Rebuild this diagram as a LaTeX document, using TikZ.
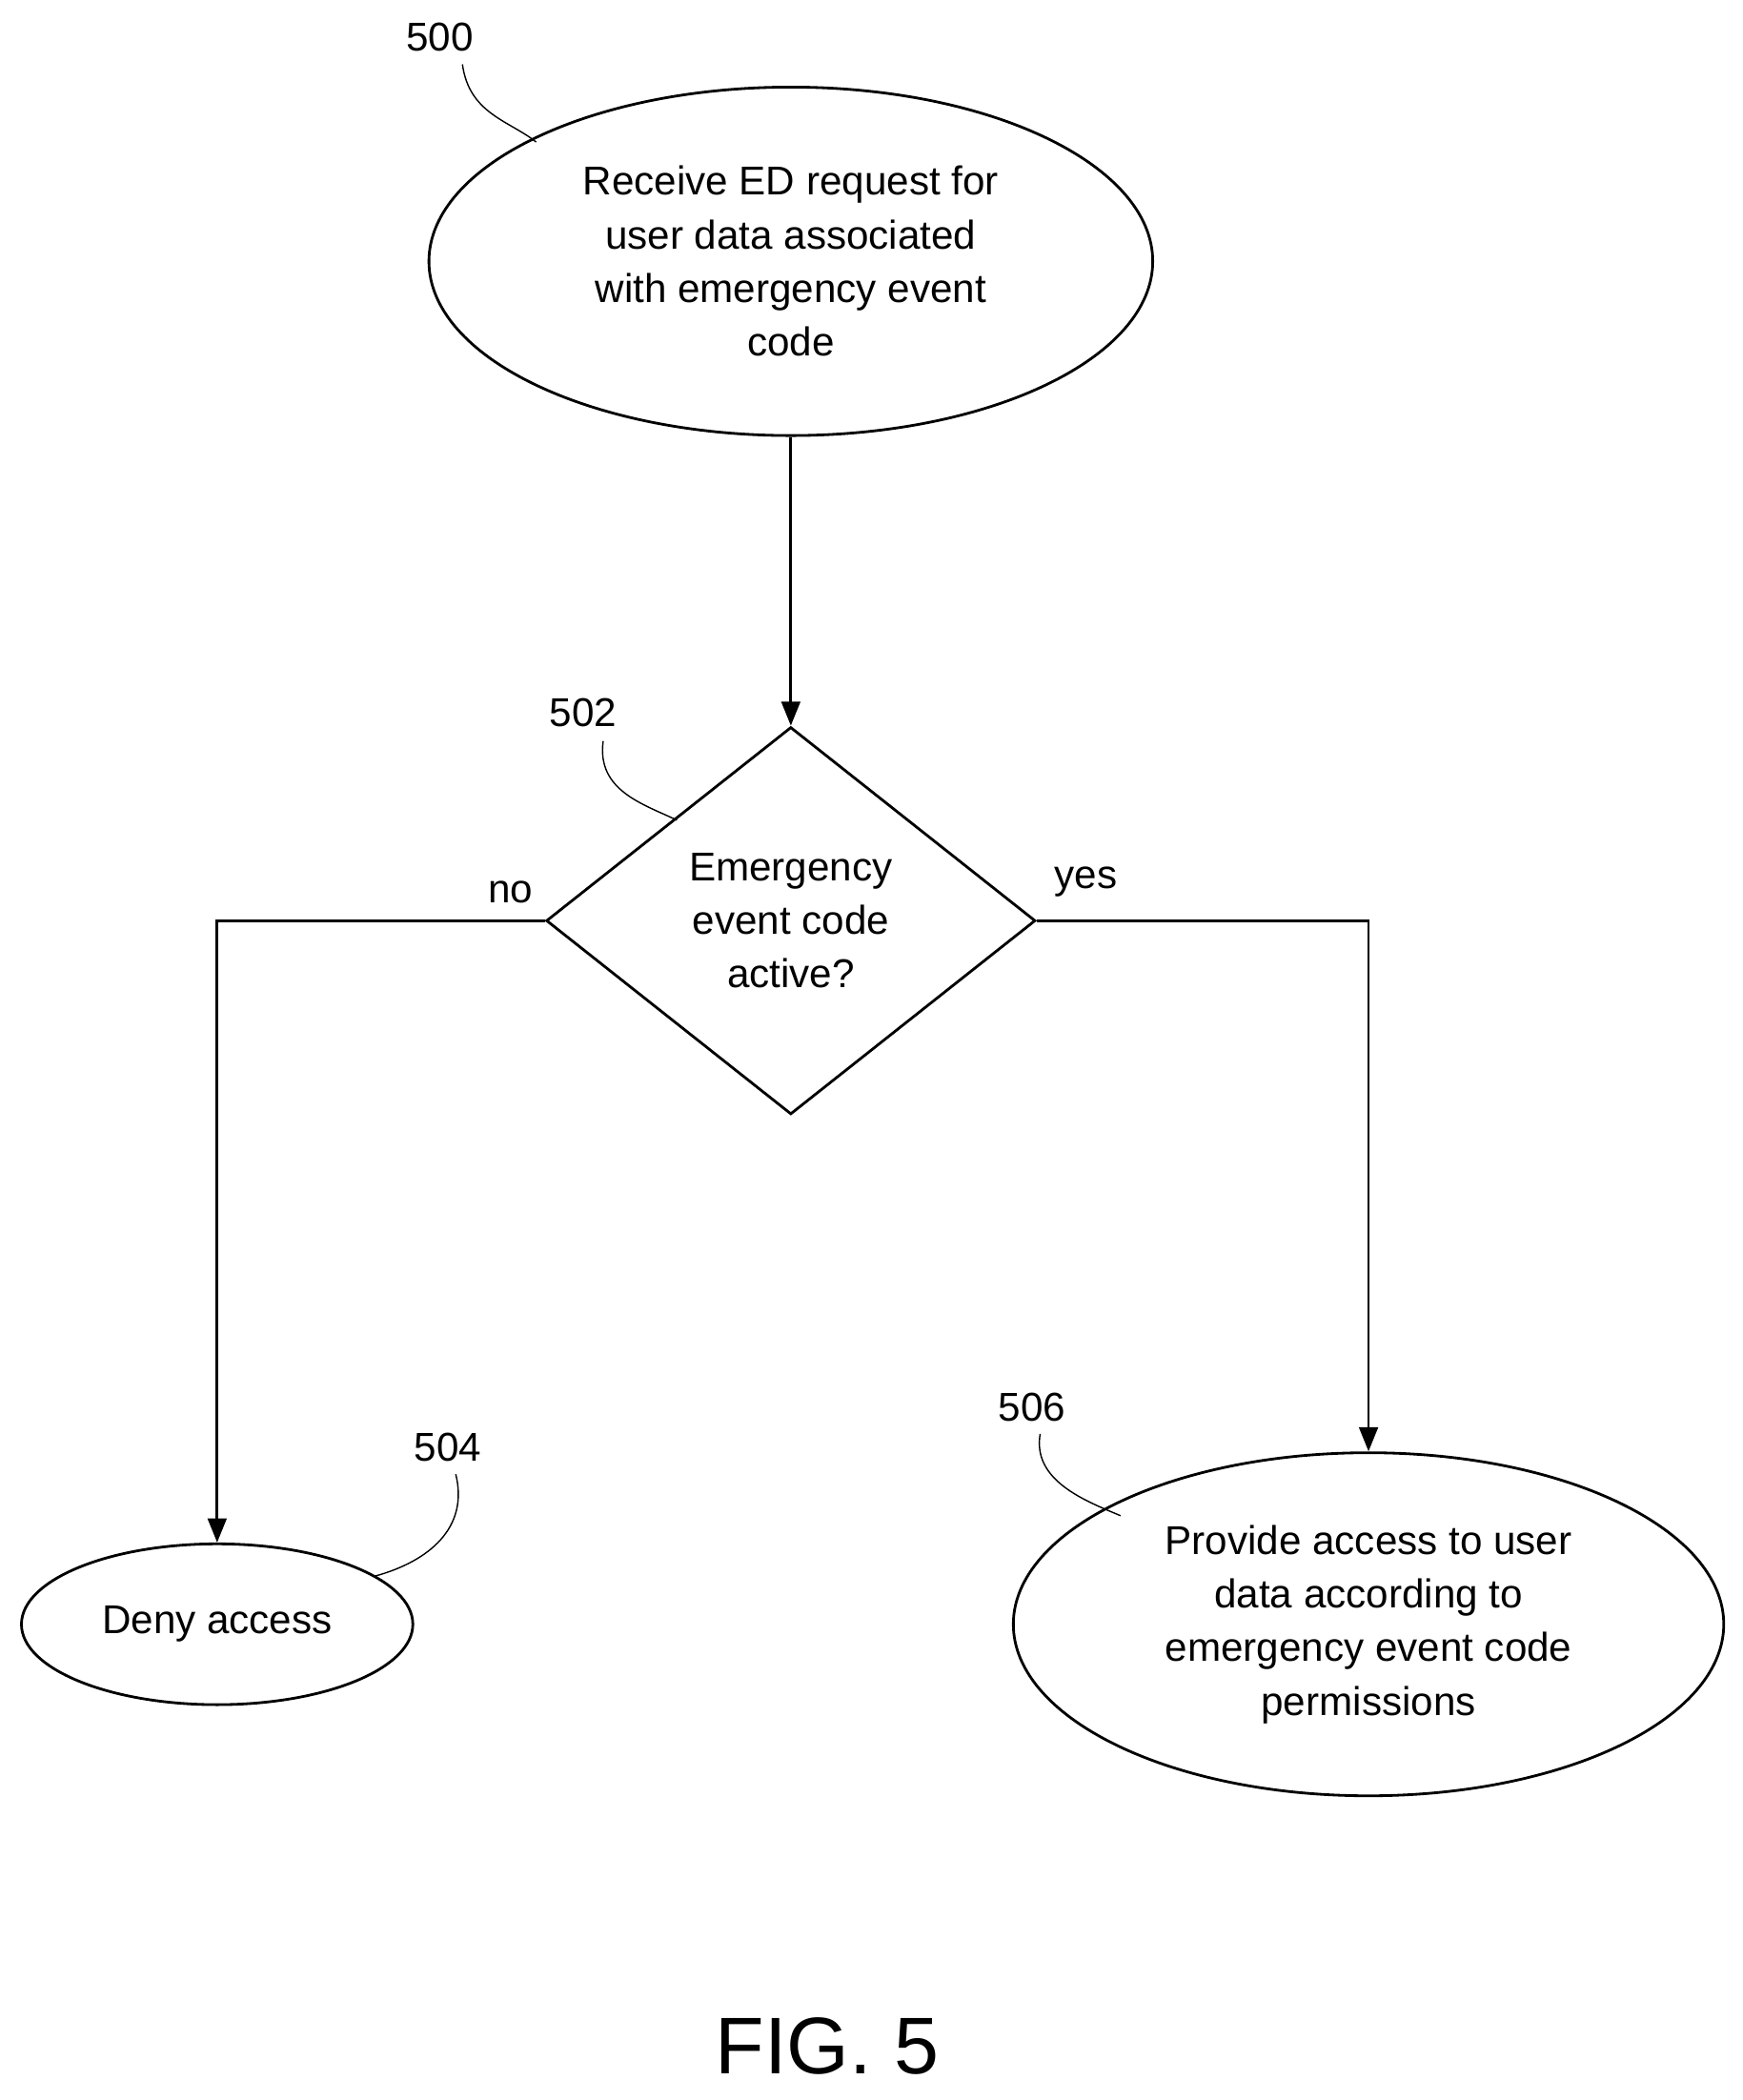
\documentclass[tikz,border=0pt]{standalone}
\usepackage{fontspec}
\setmainfont{Liberation Sans}
\usetikzlibrary{shapes.geometric,arrows.meta}
\begin{document}
\begin{tikzpicture}[x=0.5pt,y=-0.5pt,
  every node/.style={font=\fontsize{15}{20}\selectfont},
  box/.style={draw,line width=1pt,ellipse,inner sep=0pt,align=center},
  conn/.style={line width=1pt,-{Triangle[length=9pt,width=7pt]}},
  lead/.style={line width=0.5pt}]
\useasboundingbox (0,0) rectangle (1300,1567);
\node[box,minimum width=270pt,minimum height=130pt] (a) at (590,195) {Receive ED request for\\user data associated\\with emergency event\\code};
\node[draw,line width=1pt,diamond,inner sep=0pt,minimum width=182.5pt,minimum height=144.5pt,align=center] (d) at (590,687) {Emergency\\event code\\active?};
\node[box,minimum width=146pt,minimum height=60pt] (n) at (162,1212) {Deny access};
\node[box,minimum width=265pt,minimum height=128pt] (y) at (1021,1212) {Provide access to user\\data according to\\emergency event code\\permissions};
\draw[conn] (a.south) -- (d.north);
\draw[conn] (d.west) -| (n.north);
\draw[conn] (d.east) -| (y.north);
\node (nl) at (381,666) {no};
\node (yl) at (810,658) {yes};
\node (l500) at (328,28) {500};
\node (l502) at (435,532) {502};
\node (l504) at (334,1080) {504};
\node (l506) at (770,1050) {506};
\draw[lead] (345,48) .. controls (350,85) and (380,90) .. (400,106);
\draw[lead] (450,553) .. controls (445,590) and (480,600) .. (505,612);
\draw[lead] (340,1100) .. controls (350,1140) and (320,1165) .. (280,1176);
\draw[lead] (776,1070) .. controls (770,1105) and (810,1120) .. (836,1131);
\node[font=\fontsize{30}{36}\selectfont] (fig) at (617,1527) {FIG. 5};
\end{tikzpicture}
\end{document}
